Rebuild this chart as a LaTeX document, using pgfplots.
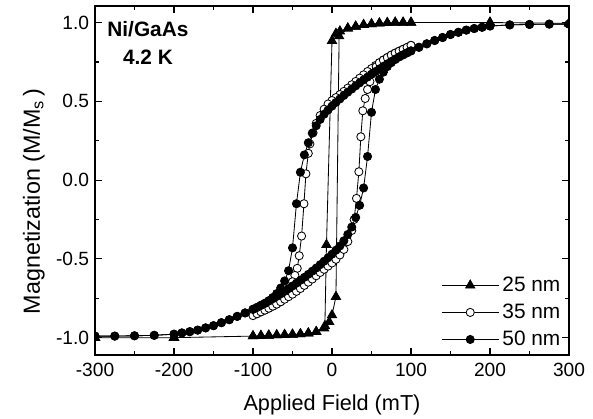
\documentclass[border=0pt]{standalone}
\usepackage{fontspec}
\setmainfont{Liberation Sans}
\usepackage{pgfplots}
\usepackage{pgfplotstable}
\pgfplotsset{compat=1.18}
\usetikzlibrary{calc}

% 25 nm: one closed loop, descending then ascending
\pgfplotstableread{
H M
300 0.995
200 1.0
100 1.0
90 1.0
80 1.0
70 0.998
60 0.995
50 0.99
40 0.985
30 0.975
20 0.963
10 0.945
5 0.93
0 0.884
-7 -0.41
-9 -0.925
-20 -0.963
-30 -0.972
-40 -0.977
-50 -0.98
-60 -0.982
-70 -0.984
-80 -0.986
-90 -0.988
-100 -0.99
-200 -1.0
-300 -1.0
-300 -1.0
-200 -1.0
-100 -0.99
-90 -0.988
-80 -0.986
-70 -0.984
-60 -0.982
-50 -0.98
-40 -0.977
-30 -0.972
-20 -0.963
-10 -0.94
-3.5 -0.90
0 -0.857
5 -0.74
9 0.914
20 0.963
30 0.975
40 0.985
50 0.99
60 0.995
70 0.998
80 1.0
90 1.0
100 1.0
200 1.0
300 0.995
}\tabA

% 35 nm
\pgfplotstableread{
H M
100 0.855
95 0.842
90 0.83
85 0.818
80 0.806
75 0.793
70 0.778
65 0.762
60 0.745
55 0.727
50 0.708
45 0.689
40 0.668
35 0.647
30 0.626
25 0.605
20 0.584
15 0.563
10 0.543
5 0.524
0 0.505
-5 0.483
-10 0.45
-15 0.41
-20 0.36
-24 0.30
-28 0.23
-30 0.17
-33 0.04
-35.5 -0.15
-38.5 -0.355
-41.5 -0.48
-44 -0.56
-47 -0.605
-50 -0.645
-55 -0.70
-60 -0.745
-65 -0.772
-70 -0.787
-75 -0.80
-80 -0.813
-85 -0.825
-90 -0.836
-95 -0.848
-100 -0.86
-95 -0.848
-90 -0.836
-85 -0.825
-80 -0.813
-75 -0.80
-70 -0.787
-65 -0.772
-60 -0.756
-55 -0.74
-50 -0.724
-45 -0.706
-40 -0.688
-35 -0.668
-30 -0.648
-25 -0.628
-20 -0.607
-15 -0.586
-10 -0.566
-5 -0.546
0 -0.526
5 -0.503
10 -0.475
15 -0.44
20 -0.39
25 -0.32
28 -0.25
31 -0.116
34 0.053
36.5 0.275
39 0.44
42 0.518
45 0.575
48 0.625
52 0.68
56 0.72
60 0.745
65 0.762
70 0.778
75 0.793
80 0.806
85 0.818
90 0.83
95 0.842
100 0.855
}\tabB

% 50 nm, descending branch (ascending branch is its mirror image)
\pgfplotstableread{
H M
300 0.99
275 0.99
250 0.988
225 0.985
200 0.978
190 0.970
180 0.962
170 0.952
160 0.938
150 0.924
140 0.905
130 0.886
120 0.865
110 0.843
100 0.82
95 0.808
90 0.795
85 0.782
80 0.768
75 0.753
70 0.738
65 0.722
60 0.706
55 0.689
50 0.672
45 0.654
40 0.636
35 0.617
30 0.598
25 0.578
20 0.558
15 0.537
10 0.515
5 0.493
0 0.47
-5 0.445
-10 0.418
-15 0.385
-20 0.345
-25 0.298
-30 0.237
-35 0.16
-40 0.05
-45 -0.15
-50 -0.43
-55 -0.575
-60 -0.64
-65 -0.685
-70 -0.72
-75 -0.745
-80 -0.765
-85 -0.782
-90 -0.795
-95 -0.808
-100 -0.82
-110 -0.843
-120 -0.865
-130 -0.886
-140 -0.905
-150 -0.924
-160 -0.938
-170 -0.952
-180 -0.962
-190 -0.970
-200 -0.978
-225 -0.985
-250 -0.988
-275 -0.99
-300 -0.99
}\tabC

\begin{document}
\begin{tikzpicture}
\begin{axis}[
    scale only axis,
    width=284.4pt, height=209.4pt,
    xmin=-300, xmax=300, ymin=-1.11, ymax=1.105,
    xtick={-300,-200,...,300},
    xticklabels={-300,-200,-100,0,100,200,300},
    ytick={-1,-0.5,0,0.5,1},
    yticklabels={-1.0,-0.5,0.0,0.5,1.0},
    minor x tick num=1, minor y tick num=1,
    tick align=inside,
    major tick length=4.2pt, minor tick length=2.4pt,
    axis line style={line width=0.8pt},
    every tick/.style={black, line width=0.7pt},
    tick label style={font=\fontsize{11.5}{13}\selectfont},
    xticklabel style={yshift=-1.2pt},
    label style={font=\fontsize{13}{15}\selectfont},
    xlabel={Applied Field (mT)},
    xlabel style={yshift=-4pt},
    ylabel={Magnetization (M/M\textsubscript{s}\,)},
    ylabel style={at={(ticklabel cs:0.44)}, font=\fontsize{14}{16}\selectfont},
    clip marker paths=true,
    every axis plot/.append style={black, line width=0.5pt},
    legend image code/.code={%
        \draw[mark repeat=2,mark phase=2] plot coordinates {(0cm,0cm) (0.6cm,0cm) (1.2cm,0cm)};},
    legend style={at={(rel axis cs:1,0)}, anchor=south east, draw=none, fill=none,
        font=\fontsize{12.5}{14}\selectfont, row sep=2pt},
    legend cell align=left,
]
\addplot[mark=triangle*, mark size=3.2pt, mark options={fill=black}] table[x=H,y=M] {\tabA};
\addplot[mark=*, mark size=2.45pt, mark options={fill=white}] table[x=H,y=M] {\tabB};
\addplot[mark=*, mark size=2.45pt, mark options={fill=black}] table[x=H,y=M] {\tabC};
\addplot[mark=*, mark size=2.45pt, mark options={fill=black}, forget plot] table[x expr=-\thisrow{H}, y expr=-\thisrow{M}] {\tabC};
\legend{25 nm, 35 nm, 50 nm}
\node[align=center, font=\bfseries\fontsize{12.5}{16.5}\selectfont] at (axis cs:-233,0.87) {Ni/GaAs\\4.2 K};
\end{axis}
\pgfresetboundingbox
\path ($(current axis.south west)+(-57pt,-38.4pt)$) rectangle ($(current axis.north east)+(14.4pt,3.6pt)$);
\end{tikzpicture}
\end{document}
